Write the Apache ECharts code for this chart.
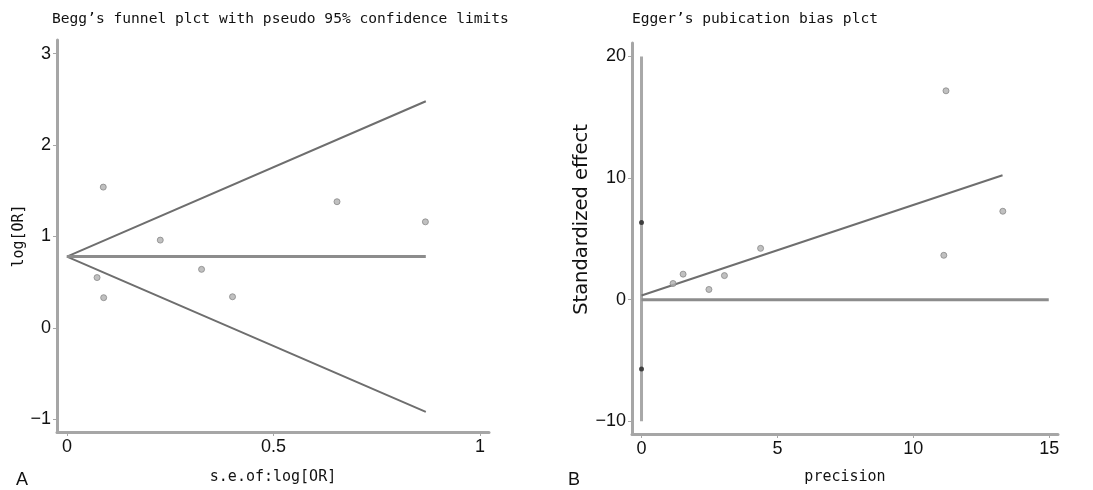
<!DOCTYPE html>
<html>
<head>
<meta charset="utf-8">
<script src="https://cdn.jsdelivr.net/npm/echarts@6/dist/echarts.min.js"></script>
<style>
  html, body { margin: 0; padding: 0; background: #fff; }
  #main { width: 1093px; height: 490px; }
</style>
</head>
<body>
<div id="main"></div>
<script>
// Begg's funnel plot data
var beggSe = [0.073, 0.088, 0.089, 0.226, 0.326, 0.401, 0.654, 0.868];
var beggLogOR = [0.55, 1.54, 0.33, 0.96, 0.64, 0.34, 1.38, 1.16];
var pooledLogOR = 0.78;
var funnelSeMax = 0.869;
var funnelUpperEnd = 2.48;
var funnelLowerEnd = -0.92;
var beggXTicks = [0, 0.5, 1];
var beggYTicks = [-1, 0, 1, 2, 3];

// Egger's plot data
var eggerPrecision = [1.16, 1.53, 2.48, 3.05, 4.38, 11.12, 11.2, 13.29];
var eggerEffect = [1.33, 2.1, 0.84, 1.98, 4.22, 3.65, 17.17, 7.27];
var eggerAxisPts = [[0, 6.34], [0, -5.69]];
var eggerRegLine = [[0, 0.35], [13.28, 10.23]];
var eggerZeroLine = [[0, 0], [14.98, 0]];
var eggerVertLine = [[0, -10], [0, 20]];
var eggerXTicks = [0, 5, 10, 15];
var eggerYTicks = [-10, 0, 10, 20];

var monoFont = '"DejaVu Sans Mono", monospace';
var tickFont = '"Liberation Sans Narrow", "Liberation Sans", sans-serif';

function zip(a, b) {
  return a.map(function (v, i) { return [v, b[i]]; });
}

function axisBase(ticks) {
  return {
    type: 'value',
    splitLine: { show: false },
    axisLine: { show: true, onZero: false, lineStyle: { color: '#a6a6a6', width: 3 } },
    axisTick: { show: true, length: 4, customValues: ticks, lineStyle: { color: '#a6a6a6', width: 1 } },
    axisLabel: {
      customValues: ticks, color: '#111', fontFamily: tickFont, fontSize: 18, margin: 6,
      formatter: function (v) { return String(v).replace('-', '\u2212'); }
    },
    nameTextStyle: { color: '#111', fontFamily: monoFont, fontSize: 15 }
  };
}

var chart = echarts.init(document.getElementById('main'));

var ptStyle = { color: '#b0b0b0', borderColor: '#888', borderWidth: 1 };
var lineStyleDark = { color: '#6e6e6e', width: 2 };

chart.setOption({
  backgroundColor: '#fff',
  animation: false,
  title: [
    { text: 'Begg’s funnel plct with pseudo 95% confidence limits', left: 47, top: 7,
      textStyle: { fontFamily: monoFont, fontSize: 14.6, fontWeight: 'normal', color: '#111' } },
    { text: 'Egger’s pubication bias plct', left: 627, top: 7,
      textStyle: { fontFamily: monoFont, fontSize: 14.6, fontWeight: 'normal', color: '#111' } }
  ],
  graphic: [
    { type: 'text', left: 16, top: 471, style: { text: 'A', fontFamily: tickFont, fontSize: 18, fill: '#111' } },
    { type: 'text', left: 568, top: 471, style: { text: 'B', fontFamily: tickFont, fontSize: 18, fill: '#111' } }
  ],
  grid: [
    { left: 57, right: 604, top: 40, bottom: 58 },
    { left: 632, right: 35, top: 43, bottom: 53 }
  ],
  xAxis: [
    Object.assign(axisBase(beggXTicks), { gridIndex: 0, min: -0.024, max: 1.022,
      name: 's.e.of:log[OR]', nameLocation: 'middle', nameGap: 38 }),
    Object.assign(axisBase(eggerXTicks), { gridIndex: 1, min: -0.35, max: 15.32,
      name: 'precision', nameLocation: 'middle', nameGap: 36 })
  ],
  yAxis: [
    Object.assign(axisBase(beggYTicks), { gridIndex: 0, min: -1.14, max: 3.15,
      name: 'log[OR]', nameLocation: 'middle', nameGap: 30 }),
    Object.assign(axisBase(eggerYTicks), { gridIndex: 1, min: -11.04, max: 21.1,
      name: 'Standardized effect', nameLocation: 'middle', nameGap: 33,
      nameTextStyle: { color: '#111', fontFamily: '"DejaVu Sans", sans-serif', fontSize: 19.5,
        padding: [0, 0, 0, 38] } })
  ],
  series: [
    { type: 'line', xAxisIndex: 0, yAxisIndex: 0, symbol: 'none', lineStyle: lineStyleDark,
      data: [[0, pooledLogOR], [funnelSeMax, funnelUpperEnd]] },
    { type: 'line', xAxisIndex: 0, yAxisIndex: 0, symbol: 'none', lineStyle: lineStyleDark,
      data: [[0, pooledLogOR], [funnelSeMax, funnelLowerEnd]] },
    { type: 'line', xAxisIndex: 0, yAxisIndex: 0, symbol: 'none',
      lineStyle: { color: '#8c8c8c', width: 3 },
      data: [[0, pooledLogOR], [funnelSeMax, pooledLogOR]] },
    { type: 'scatter', xAxisIndex: 0, yAxisIndex: 0, symbolSize: 6, itemStyle: ptStyle, z: 5,
      data: zip(beggSe, beggLogOR) },

    { type: 'line', xAxisIndex: 1, yAxisIndex: 1, symbol: 'none',
      lineStyle: { color: '#a8a8a8', width: 3 }, data: eggerVertLine },
    { type: 'line', xAxisIndex: 1, yAxisIndex: 1, symbol: 'none',
      lineStyle: { color: '#8c8c8c', width: 3 }, data: eggerZeroLine },
    { type: 'line', xAxisIndex: 1, yAxisIndex: 1, symbol: 'none', lineStyle: lineStyleDark,
      data: eggerRegLine },
    { type: 'scatter', xAxisIndex: 1, yAxisIndex: 1, symbolSize: 6, itemStyle: ptStyle, z: 5,
      data: zip(eggerPrecision, eggerEffect) },
    { type: 'scatter', xAxisIndex: 1, yAxisIndex: 1, symbolSize: 5, z: 6,
      itemStyle: { color: '#222' }, data: eggerAxisPts }
  ]
});
</script>
</body>
</html>
